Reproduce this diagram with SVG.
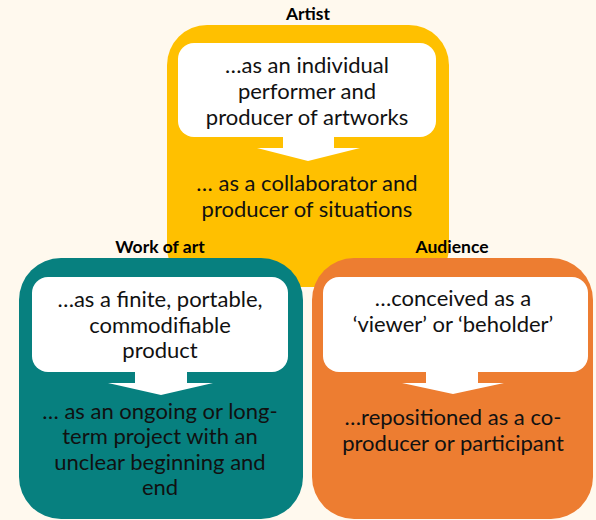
<svg xmlns="http://www.w3.org/2000/svg" width="596" height="520" viewBox="0 0 596 520">
  <style>
    .bg { fill: #FFF9EE; }
    .panel-artist { fill: #FFC000; }
    .panel-work { fill: #07807F; }
    .panel-audience { fill: #ED7D31; }
    .card { fill: #FFFFFF; }
    .arrow { fill: #FFFFFF; }
    .title { font-family: "Lato", "Open Sans", "Liberation Sans", sans-serif; font-weight: bold; font-size: 17.5px; fill: #000000; text-anchor: middle; }
    .body { font-family: "Lato", "Open Sans", "Liberation Sans", sans-serif; font-size: 22px; fill: #111111; text-anchor: middle; }
  </style>

  <rect class="bg" x="0" y="0" width="596" height="520"/>

  <!-- Artist panel (drawn first, sits behind the two lower panels) -->
  <g id="artist">
    <text class="title" x="308" y="20">Artist</text>
    <rect class="panel-artist" x="167" y="25" width="282" height="262" rx="40"/>
    <rect class="card" x="178" y="43" width="258" height="94" rx="16"/>
    <text class="body" x="307" y="73">…as an individual</text>
    <text class="body" x="307" y="99">performer and</text>
    <text class="body" x="307" y="125">producer of artworks</text>
    <text class="body" x="307" y="191">… as a collaborator and</text>
    <text class="body" x="307" y="217">producer of situations</text>
  </g>

  <!-- Work of art panel -->
  <g id="work-of-art">
    <text class="title" x="160" y="253">Work of art</text>
    <rect class="panel-work" x="19" y="258" width="284" height="261" rx="42"/>
    <rect class="card" x="32" y="277" width="256" height="95" rx="16"/>
    <text class="body" x="160" y="307">…as a finite, portable,</text>
    <text class="body" x="160" y="333">commodifiable</text>
    <text class="body" x="160" y="358">product</text>
    <text class="body" x="160" y="419">… as an ongoing or long-</text>
    <text class="body" x="160" y="444">term project with an</text>
    <text class="body" x="160" y="470">unclear beginning and</text>
    <text class="body" x="160" y="495">end</text>
  </g>

  <!-- Audience panel -->
  <g id="audience">
    <text class="title" x="452" y="253">Audience</text>
    <rect class="panel-audience" x="312" y="258" width="281" height="261" rx="42"/>
    <rect class="card" x="323" y="277" width="265" height="95" rx="16"/>
    <text class="body" x="453" y="306">…conceived as a</text>
    <text class="body" x="453" y="332">‘viewer’ or ‘beholder’</text>
    <text class="body" x="453" y="425">…repositioned as a co-</text>
    <text class="body" x="453" y="451">producer or participant</text>
  </g>

  <!-- Transition arrows from each card to the text beneath it -->
  <g id="connectors">
    <path class="arrow" d="M283,136 H334 V148 H360 L308,161 L257,148 H283 Z"/>
    <path class="arrow" d="M135,371 H187 V383 H213 L161,395 L108,383 H135 Z"/>
    <path class="arrow" d="M426,371 H478 V383 H504 L453,394 L402,383 H426 Z"/>
  </g>
</svg>
